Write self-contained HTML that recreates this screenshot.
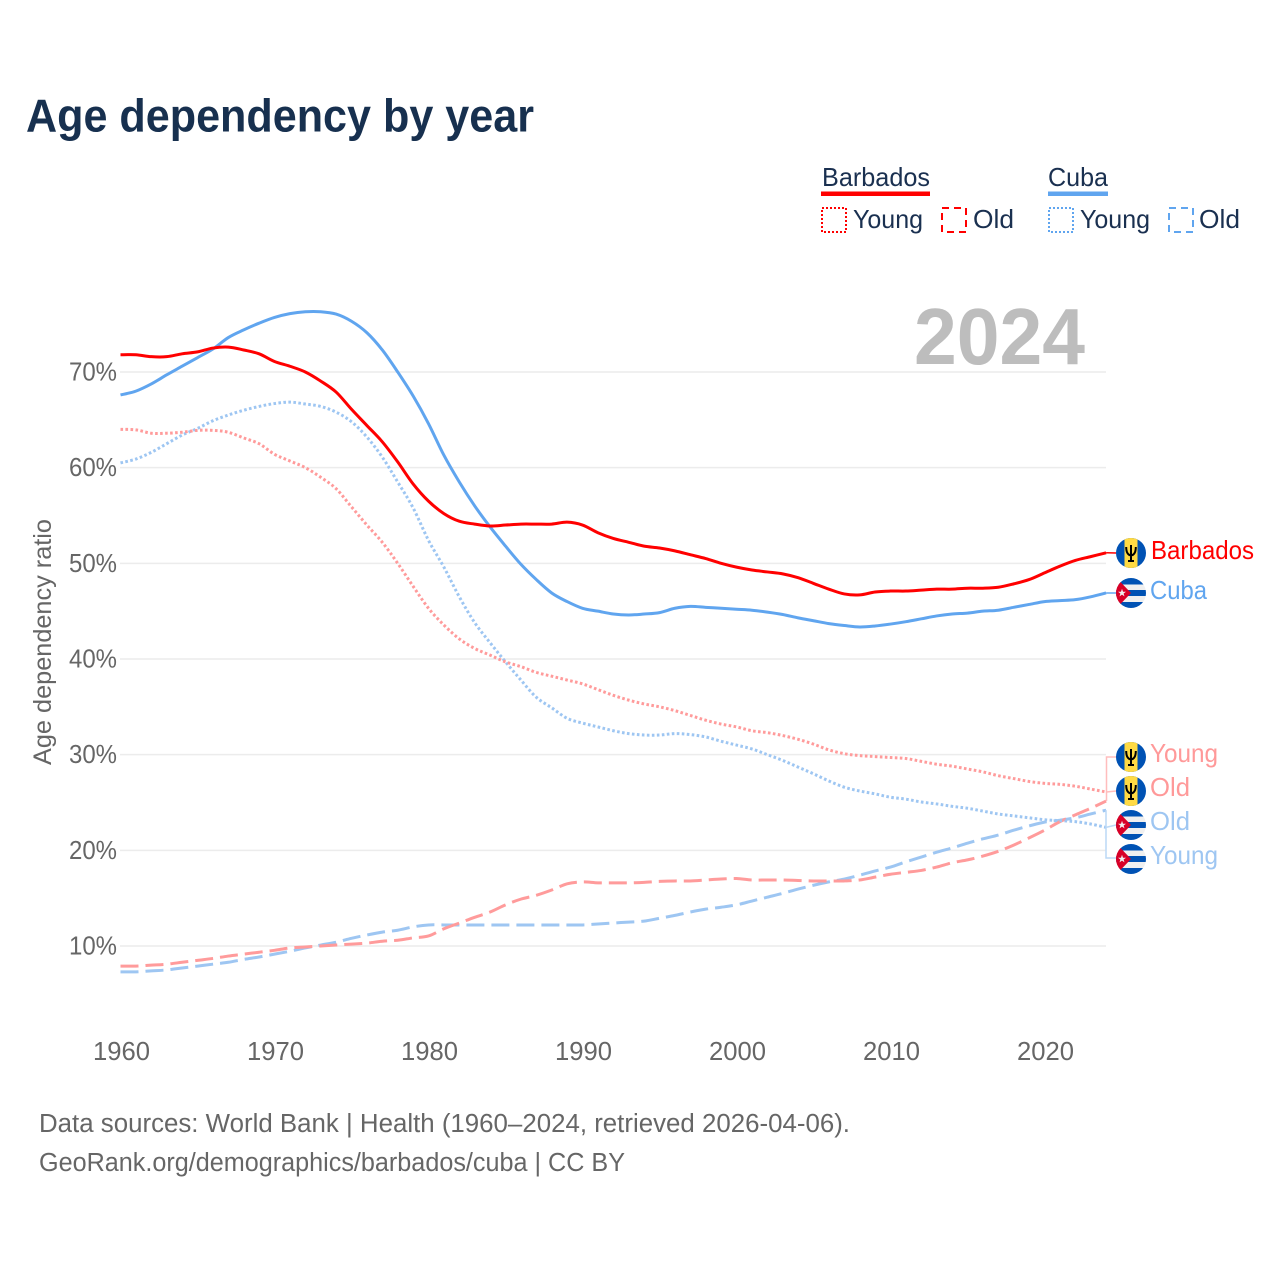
<!DOCTYPE html>
<html lang="en">
<head>
<meta charset="utf-8">
<title>Age dependency by year</title>
<style>
html,body{margin:0;padding:0;background:#fff;width:1280px;height:1280px;overflow:hidden}
svg{display:block}
text{font-family:"Liberation Sans",sans-serif}
</style>
</head>
<body>
<svg id="chart" xmlns="http://www.w3.org/2000/svg" width="1280" height="1280" viewBox="0 0 1280 1280">
  <text x="26" y="131.5" font-size="46" font-weight="700" fill="#17304f" textLength="508" lengthAdjust="spacingAndGlyphs">Age dependency by year</text>

  <g font-size="26" fill="#1a3050">
    <text x="822" y="186" textLength="108" lengthAdjust="spacingAndGlyphs">Barbados</text>
    <rect x="821" y="191.5" width="109" height="4.5" fill="#ff0000"/>
    <text x="1048" y="186" textLength="60" lengthAdjust="spacingAndGlyphs">Cuba</text>
    <rect x="1048" y="191.5" width="60" height="4.5" fill="#60a5ef"/>

    <rect x="822" y="208" width="24" height="24" fill="none" stroke="#ff0000" stroke-width="2" stroke-dasharray="2 2"/>
    <text x="853" y="228" textLength="70" lengthAdjust="spacingAndGlyphs">Young</text>
    <rect x="942" y="208" width="24" height="24" fill="none" stroke="#ff0000" stroke-width="2" stroke-dasharray="7 5"/>
    <text x="973" y="228" textLength="41" lengthAdjust="spacingAndGlyphs">Old</text>
    <rect x="1049" y="208" width="24" height="24" fill="none" stroke="#60a5ef" stroke-width="2" stroke-dasharray="2 2"/>
    <text x="1080" y="228" textLength="70" lengthAdjust="spacingAndGlyphs">Young</text>
    <rect x="1169" y="208" width="24" height="24" fill="none" stroke="#60a5ef" stroke-width="2" stroke-dasharray="7 5"/>
    <text x="1199" y="228" textLength="41" lengthAdjust="spacingAndGlyphs">Old</text>
  </g>

  <g id="grid"></g>
  <g id="yticks"></g>
  <g id="xticks"></g>

  <text transform="translate(51 642) rotate(-90)" text-anchor="middle" font-size="25" fill="#666666" textLength="246" lengthAdjust="spacingAndGlyphs">Age dependency ratio</text>
  <text x="914" y="364" font-size="80" font-weight="700" fill="#bdbdbd" textLength="171" lengthAdjust="spacingAndGlyphs">2024</text>

  <g id="series"></g>
  <g id="leaders"></g>

  <defs>
    <clipPath id="flag-clip"><circle cx="0" cy="0" r="15"/></clipPath>
    <g id="flag-bb" clip-path="url(#flag-clip)">
      <rect x="-16" y="-16" width="32" height="32" fill="#0052b4"/>
      <rect x="-6.5" y="-16" width="13" height="32" fill="#ffda44"/>
      <path d="M0 -8 V8 M-4.8 -6 C-4.8 -1 -3.2 2 0 2.5 C3.2 2 4.8 -1 4.8 -6 M-3 8 H3" fill="none" stroke="#000" stroke-width="2"/>
    </g>
    <g id="flag-cu" clip-path="url(#flag-clip)">
      <rect x="-16" y="-16" width="32" height="32" fill="#f0f0f0"/>
      <rect x="-16" y="-16" width="32" height="7.5" fill="#0052b4"/>
      <rect x="-16" y="-3" width="32" height="6" fill="#0052b4"/>
      <rect x="-16" y="9" width="32" height="7" fill="#0052b4"/>
      <polygon points="-16,-11 -10.5,-11 0,0 -10.5,11 -16,11" fill="#d80027"/>
      <polygon points="-9,-4.2 -8,-1.3 -5,-1.3 -7.4,0.5 -6.5,3.4 -9,1.6 -11.5,3.4 -10.6,0.5 -13,-1.3 -10,-1.3" fill="#f0f0f0"/>
    </g>
  </defs>

  <g font-size="26">
    <use href="#flag-bb" x="1131" y="553"/>
    <text x="1151" y="559" fill="#ff0000" textLength="103" lengthAdjust="spacingAndGlyphs">Barbados</text>
    <use href="#flag-cu" x="1131" y="593"/>
    <text x="1150" y="599" fill="#60a5ef" textLength="57" lengthAdjust="spacingAndGlyphs">Cuba</text>
    <use href="#flag-bb" x="1131" y="757"/>
    <text x="1150" y="762" fill="#ff9999" textLength="68" lengthAdjust="spacingAndGlyphs">Young</text>
    <use href="#flag-bb" x="1131" y="791"/>
    <text x="1150" y="796" fill="#ff9999" textLength="40" lengthAdjust="spacingAndGlyphs">Old</text>
    <use href="#flag-cu" x="1131" y="825"/>
    <text x="1150" y="830" fill="#9ec6f2" textLength="40" lengthAdjust="spacingAndGlyphs">Old</text>
    <use href="#flag-cu" x="1131" y="859"/>
    <text x="1150" y="864" fill="#9ec6f2" textLength="68" lengthAdjust="spacingAndGlyphs">Young</text>
  </g>

  <g font-size="25.5" fill="#666666">
    <text x="39" y="1132" textLength="811" lengthAdjust="spacingAndGlyphs">Data sources: World Bank | Health (1960–2024, retrieved 2026-04-06).</text>
    <text x="39" y="1171" textLength="586" lengthAdjust="spacingAndGlyphs">GeoRank.org/demographics/barbados/cuba | CC BY</text>
  </g>
</svg>

<script>
const startYear = 1960;
const yTickValues = [10, 20, 30, 40, 50, 60, 70];
const yTickLabels = ['10%', '20%', '30%', '40%', '50%', '60%', '70%'];
const xTickValues = [1960, 1970, 1980, 1990, 2000, 2010, 2020];
const xTickLabels = ['1960', '1970', '1980', '1990', '2000', '2010', '2020'];

const barbadosTotal = [71.8,71.8,71.6,71.6,71.9,72.1,72.5,72.6,72.3,71.9,71.1,70.6,70.0,69.05,67.9,66.1,64.4,62.7,60.6,58.3,56.5,55.2,54.4,54.1,53.9,54.0,54.1,54.1,54.1,54.3,54.0,53.2,52.6,52.2,51.8,51.6,51.3,50.9,50.5,50.0,49.6,49.3,49.1,48.9,48.5,47.9,47.3,46.8,46.7,47.0,47.1,47.1,47.2,47.3,47.3,47.4,47.4,47.5,47.85,48.3,49.0,49.7,50.3,50.7,51.1];
const cubaTotal = [67.6,68.0,68.75,69.7,70.6,71.5,72.4,73.6,74.4,75.1,75.7,76.1,76.3,76.3,76.05,75.3,74.1,72.3,70.0,67.5,64.6,61.3,58.5,56.0,53.8,51.8,49.9,48.3,46.9,46.0,45.3,45.0,44.7,44.6,44.7,44.85,45.3,45.5,45.4,45.3,45.2,45.1,44.9,44.65,44.3,44.0,43.7,43.5,43.35,43.45,43.65,43.9,44.2,44.5,44.7,44.8,45.0,45.1,45.4,45.7,46.0,46.1,46.2,46.5,46.9];
const barbadosYoung = [64.0,63.95,63.6,63.6,63.7,63.9,63.9,63.7,63.1,62.5,61.4,60.7,60.0,59.0,57.8,55.9,54.0,52.2,50.0,47.6,45.3,43.55,42.1,41.1,40.4,39.7,39.2,38.6,38.2,37.8,37.4,36.8,36.2,35.7,35.3,35.0,34.6,34.1,33.6,33.2,32.9,32.5,32.3,32.0,31.6,31.1,30.5,30.1,29.9,29.8,29.7,29.6,29.3,29.0,28.8,28.5,28.2,27.8,27.5,27.2,27.0,26.9,26.7,26.4,26.1];
const cubaYoung = [60.5,60.9,61.6,62.5,63.4,64.1,64.9,65.5,66.0,66.4,66.7,66.85,66.65,66.4,65.8,64.8,63.2,61.1,58.5,55.8,52.4,49.6,46.5,43.8,41.7,39.7,37.8,36.0,34.9,33.8,33.3,32.9,32.5,32.2,32.05,32.05,32.2,32.1,31.85,31.4,31.0,30.6,30.0,29.4,28.7,28.0,27.25,26.6,26.2,25.9,25.55,25.35,25.05,24.85,24.6,24.4,24.1,23.8,23.6,23.4,23.2,23.1,23.0,22.75,22.4];
const barbadosOld = [7.9,7.9,8.0,8.1,8.3,8.5,8.7,8.95,9.15,9.35,9.55,9.8,9.9,10.0,10.1,10.2,10.3,10.5,10.6,10.85,11.05,11.8,12.4,13.0,13.55,14.3,14.9,15.3,15.85,16.5,16.7,16.6,16.6,16.6,16.65,16.75,16.8,16.8,16.9,17.0,17.05,16.9,16.9,16.9,16.85,16.8,16.8,16.8,16.9,17.2,17.5,17.7,17.9,18.25,18.7,19.0,19.4,19.9,20.55,21.3,22.1,23.0,23.7,24.4,25.15];
const cubaOld = [7.3,7.3,7.4,7.5,7.7,7.9,8.1,8.3,8.6,8.85,9.15,9.45,9.8,10.1,10.4,10.8,11.15,11.45,11.65,12.0,12.2,12.2,12.2,12.2,12.2,12.2,12.2,12.2,12.2,12.2,12.2,12.3,12.4,12.5,12.6,12.9,13.2,13.55,13.85,14.05,14.3,14.7,15.1,15.5,15.95,16.35,16.7,17.0,17.4,17.85,18.25,18.8,19.3,19.8,20.25,20.75,21.2,21.6,22.1,22.55,22.95,23.15,23.4,23.8,24.2];

const SVGNS = 'http://www.w3.org/2000/svg';
function xScale(year) { return 120.5 + (year - startYear) * 15.4; }
function yScale(v) { return 946 - (v - 10) * 9.567; }
function make(tag, attrs, parent) {
  const el = document.createElementNS(SVGNS, tag);
  for (const k in attrs) el.setAttribute(k, attrs[k]);
  parent.appendChild(el);
  return el;
}
function pathFrom(values) {
  const pts = values.map(function (v, i) { return [xScale(startYear + i), yScale(v)]; });
  let d = 'M' + pts[0][0].toFixed(2) + ' ' + pts[0][1].toFixed(2);
  for (let i = 0; i < pts.length - 1; i++) {
    const p0 = pts[Math.max(i - 1, 0)], p1 = pts[i], p2 = pts[i + 1], p3 = pts[Math.min(i + 2, pts.length - 1)];
    const c1x = p1[0] + (p2[0] - p0[0]) / 6, c1y = p1[1] + (p2[1] - p0[1]) / 6;
    const c2x = p2[0] - (p3[0] - p1[0]) / 6, c2y = p2[1] - (p3[1] - p1[1]) / 6;
    d += ' C' + c1x.toFixed(2) + ' ' + c1y.toFixed(2) + ' ' + c2x.toFixed(2) + ' ' + c2y.toFixed(2) + ' ' + p2[0].toFixed(2) + ' ' + p2[1].toFixed(2);
  }
  return d;
}

const gridGroup = document.getElementById('grid');
const yGroup = document.getElementById('yticks');
yTickValues.forEach(function (v, i) {
  const line = make('line', {x1: 120, x2: 1106, y1: yScale(v), y2: yScale(v), stroke: '#ececec', 'stroke-width': 1.5}, gridGroup);
  
  
  const t = make('text', {x: 117, y: yScale(v) + 8.5, 'text-anchor': 'end', 'font-size': 25.5, fill: '#666666', textLength: 48, lengthAdjust: 'spacingAndGlyphs'}, yGroup);
  
  
  t.textContent = yTickLabels[i];
});

const xGroup = document.getElementById('xticks');
xTickValues.forEach(function (v, i) {
  const t = make('text', {x: xScale(v) + 1, y: 1060, 'text-anchor': 'middle', 'font-size': 25.5, fill: '#666666', textLength: 57, lengthAdjust: 'spacingAndGlyphs'}, xGroup);
  
  
  t.textContent = xTickLabels[i];
});

const seriesGroup = document.getElementById('series');
function drawSeries(values, color, width, dash, name) {
  const attrs = {d: pathFrom(values), fill: 'none', stroke: color, 'stroke-width': width, 'stroke-linejoin': 'round'};
  if (dash) attrs['stroke-dasharray'] = dash;
  const p = make('path', attrs, seriesGroup);
  
  
}
drawSeries(cubaOld, '#9ec6f2', 3, '18 7', 'line-cuba-old');
drawSeries(barbadosOld, '#ff9b9b', 3, '18 7', 'line-barbados-old');
drawSeries(cubaYoung, '#9ec6f2', 3, '2.6 2.4', 'line-cuba-young');
drawSeries(barbadosYoung, '#ff9b9b', 3, '2.6 2.4', 'line-barbados-young');
drawSeries(cubaTotal, '#60a5ef', 3, '', 'line-cuba-total');
drawSeries(barbadosTotal, '#ff0000', 3, '', 'line-barbados-total');

const leaderGroup = document.getElementById('leaders');
const xEnd = xScale(2024);
function lastOf(values) { return yScale(values[values.length - 1]); }
function drawLeader(d, color, name) {
  const p = make('path', {d: d, fill: 'none', stroke: color, 'stroke-width': 1.5}, leaderGroup);
  
  
}
drawLeader('M' + xEnd + ' ' + lastOf(barbadosTotal) + ' L1116 553', '#ff0000', 'leader-barbados');
drawLeader('M' + xEnd + ' ' + lastOf(cubaTotal) + ' L1116 593', '#60a5ef', 'leader-cuba');
drawLeader('M1116 757 H1106.5 V' + lastOf(barbadosOld), '#ffbdbd', 'leader-barbados-young');
drawLeader('M1106.5 ' + lastOf(barbadosYoung) + ' L1116 791', '#ffbdbd', 'leader-barbados-old');
drawLeader('M1106 ' + lastOf(cubaOld) + ' V858 H1116', '#bcd9f6', 'leader-cuba-young');
drawLeader('M1106 ' + lastOf(cubaYoung) + ' L1116 825', '#bcd9f6', 'leader-cuba-old');
</script>
</body>
</html>
